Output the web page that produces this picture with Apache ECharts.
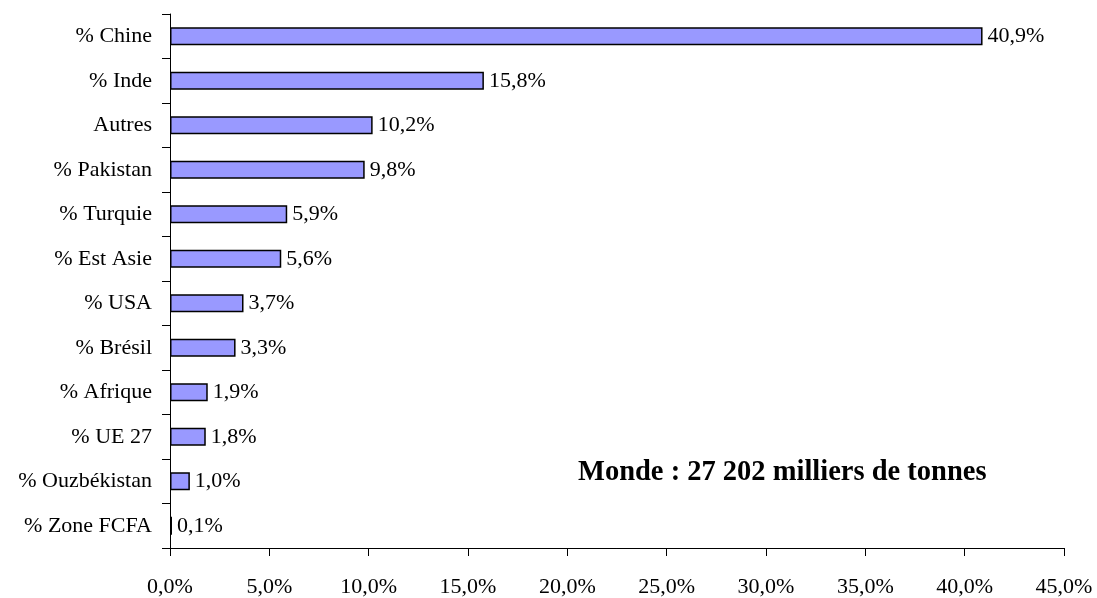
<!DOCTYPE html>
<html>
<head>
<meta charset="utf-8">
<script src="https://cdn.jsdelivr.net/npm/echarts@6/dist/echarts.min.js"></script>
<style>
  html, body { margin: 0; padding: 0; background: #fff; }
  #chart { width: 1097px; height: 598px; }
</style>
</head>
<body>
<div id="chart"></div>
<script>
var categories = ['% Chine', '% Inde', 'Autres', '% Pakistan', '% Turquie', '% Est Asie',
    '% USA', '% Brésil', '% Afrique', '% UE 27', '% Ouzbékistan', '% Zone FCFA'];
var values = [40.9, 15.8, 10.2, 9.8, 5.9, 5.6, 3.7, 3.3, 1.9, 1.8, 1.0, 0.1];
var annotation = 'Monde : 27 202 milliers de tonnes';

var chart = echarts.init(document.getElementById('chart'));
var font = '"Liberation Serif", "Times New Roman", serif';

// format 40.9 -> "40,9%"
function pct(v) {
    return v.toFixed(1).replace('.', ',') + '%';
}

var option = {
    animation: false,
    textStyle: { fontFamily: font },
    grid: { left: 170, right: 33, top: 14, bottom: 50 },
    xAxis: {
        type: 'value',
        min: 0,
        max: 45,
        interval: 5,
        splitLine: { show: false },
        axisLine: { show: true, lineStyle: { color: '#000', width: 1 } },
        axisTick: { show: true, length: 8, lineStyle: { color: '#000' } },
        axisLabel: {
            color: '#000', fontSize: 22, fontFamily: font, margin: 28,
            formatter: function (v) { return pct(v); }
        }
    },
    yAxis: {
        type: 'category',
        inverse: true,
        data: categories,
        axisLine: { show: true, lineStyle: { color: '#000', width: 1 } },
        axisTick: { show: true, length: 8, lineStyle: { color: '#000' } },
        axisLabel: { color: '#000', fontSize: 22, fontFamily: font, margin: 18 }
    },
    series: [{
        type: 'bar',
        data: values,
        barWidth: 18,
        itemStyle: { color: '#9999ff', borderColor: '#000', borderWidth: 1.5 },
        label: {
            show: true,
            position: 'right',
            distance: 5,
            color: '#000',
            fontSize: 22,
            fontFamily: font,
            formatter: function (p) { return pct(p.value); }
        }
    }],
    graphic: [{
        type: 'text',
        left: 578,
        top: 458,
        style: {
            text: annotation,
            fill: '#000',
            font: 'bold 28.5px ' + font
        }
    }]
};

chart.setOption(option);
</script>
</body>
</html>
